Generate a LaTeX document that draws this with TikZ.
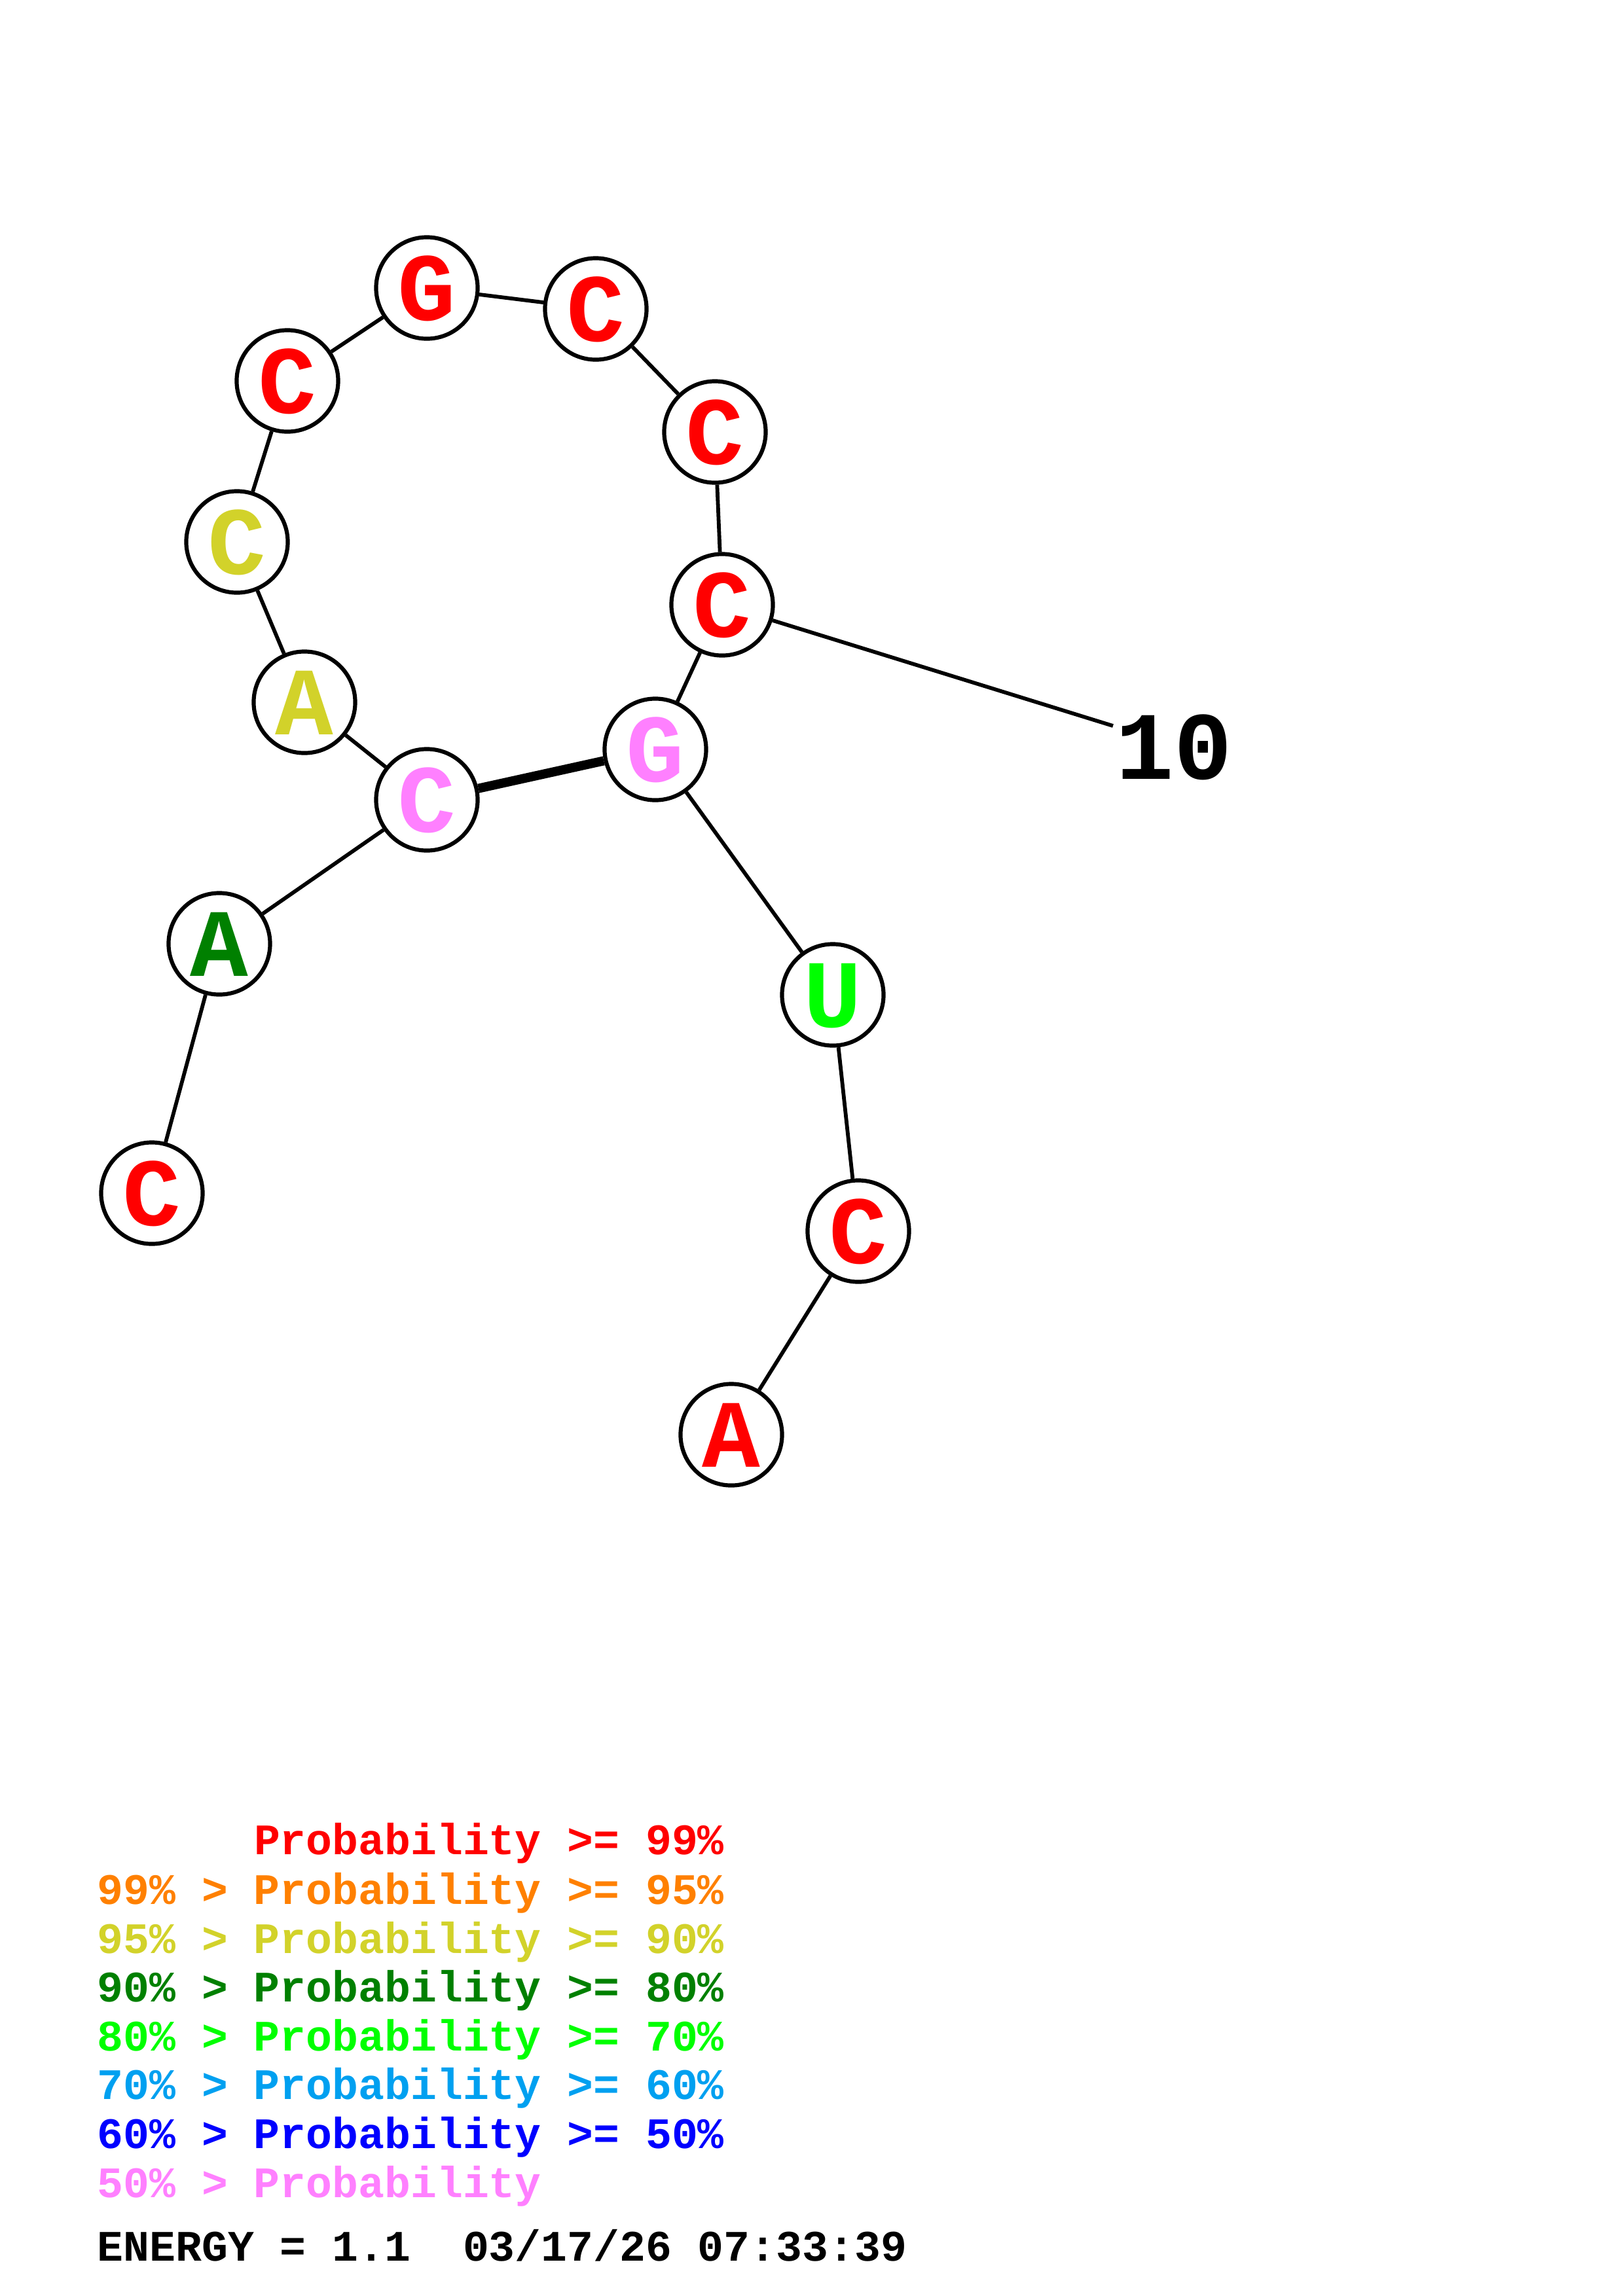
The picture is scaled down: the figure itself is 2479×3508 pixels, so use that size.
\documentclass[tikz,border=0pt]{standalone}
\usepackage{fontspec}
\newfontfamily\cour{Liberation Mono}
\definecolor{cRed}{RGB}{255,0,0}
\definecolor{cOrange}{RGB}{255,128,0}
\definecolor{cYellow}{RGB}{210,210,42}
\definecolor{cDkGreen}{RGB}{0,128,0}
\definecolor{cGreen}{RGB}{0,255,0}
\definecolor{cSky}{RGB}{0,160,240}
\definecolor{cBlue}{RGB}{0,0,255}
\definecolor{cPink}{RGB}{255,128,255}
\begin{document}
\begin{tikzpicture}[x=0.01cm,y=-0.01cm,
  base/.style={circle, draw=black, line width=1.75pt, fill=white, minimum size=1.55cm, inner sep=0pt,
    font=\cour\bfseries\fontsize{42}{42}\selectfont, text height=28.4pt, text depth=0pt},
  link/.style={line width=1.65pt},
  pair/.style={line width=4pt},
  numlabel/.style={anchor=base, inner sep=0pt, font=\cour\bfseries\fontsize{42}{42}\selectfont},
  legend/.style={anchor=base west, inner sep=0pt, font=\cour\bfseries\fontsize{18.9}{18.9}\selectfont}]
\useasboundingbox (0,0) rectangle (2479,3508);
% nucleotides
\node[base, text=cRed]     (n1)  at (232,1823) {C};
\node[base, text=cDkGreen] (n2)  at (335,1442) {A};
\node[base, text=cPink]    (n3)  at (652,1222) {C};
\node[base, text=cYellow]  (n4)  at (465,1073) {A};
\node[base, text=cYellow]  (n5)  at (362,828)  {C};
\node[base, text=cRed]     (n6)  at (439,582)  {C};
\node[base, text=cRed]     (n7)  at (652,440)  {G};
\node[base, text=cRed]     (n8)  at (910,472)  {C};
\node[base, text=cRed]     (n9)  at (1092,660) {C};
\node[base, text=cRed]     (n10) at (1103,924) {C};
\node[base, text=cPink]    (n11) at (1001,1145) {G};
\node[base, text=cGreen]   (n12) at (1272,1520) {U};
\node[base, text=cRed]     (n13) at (1311,1881) {C};
\node[base, text=cRed]     (n14) at (1117,2192) {A};
% number label
\node[numlabel] (lab10) at (1793,1190) {10};
\coordinate (t10) at (1700,1109);
% backbone
\draw[link] (n1) -- (n2);
\draw[link] (n2) -- (n3);
\draw[link] (n3) -- (n4);
\draw[link] (n4) -- (n5);
\draw[link] (n5) -- (n6);
\draw[link] (n6) -- (n7);
\draw[link] (n7) -- (n8);
\draw[link] (n8) -- (n9);
\draw[link] (n9) -- (n10);
\draw[link] (n10) -- (n11);
\draw[link] (n11) -- (n12);
\draw[link] (n12) -- (n13);
\draw[link] (n13) -- (n14);
\draw[link] (n10) -- (t10);
% base pair
\draw[pair] (n3) -- (n11);
% legend
\node[legend, text=cRed]     (l1) at (148,2833) {\hphantom{99\% > }Probability >= 99\%};
\node[legend, text=cOrange]  (l2) at (148,2909) {99\% > Probability >= 95\%};
\node[legend, text=cYellow]  (l3) at (148,2984) {95\% > Probability >= 90\%};
\node[legend, text=cDkGreen] (l4) at (148,3058) {90\% > Probability >= 80\%};
\node[legend, text=cGreen]   (l5) at (148,3133) {80\% > Probability >= 70\%};
\node[legend, text=cSky]     (l6) at (148,3207) {70\% > Probability >= 60\%};
\node[legend, text=cBlue]    (l7) at (148,3282) {60\% > Probability >= 50\%};
\node[legend, text=cPink]    (l8) at (148,3357) {50\% > Probability};
\node[legend, text=black]    (l9) at (148,3454) {ENERGY = 1.1\ \ 03/17/26 07:33:39};
\end{tikzpicture}
\end{document}
